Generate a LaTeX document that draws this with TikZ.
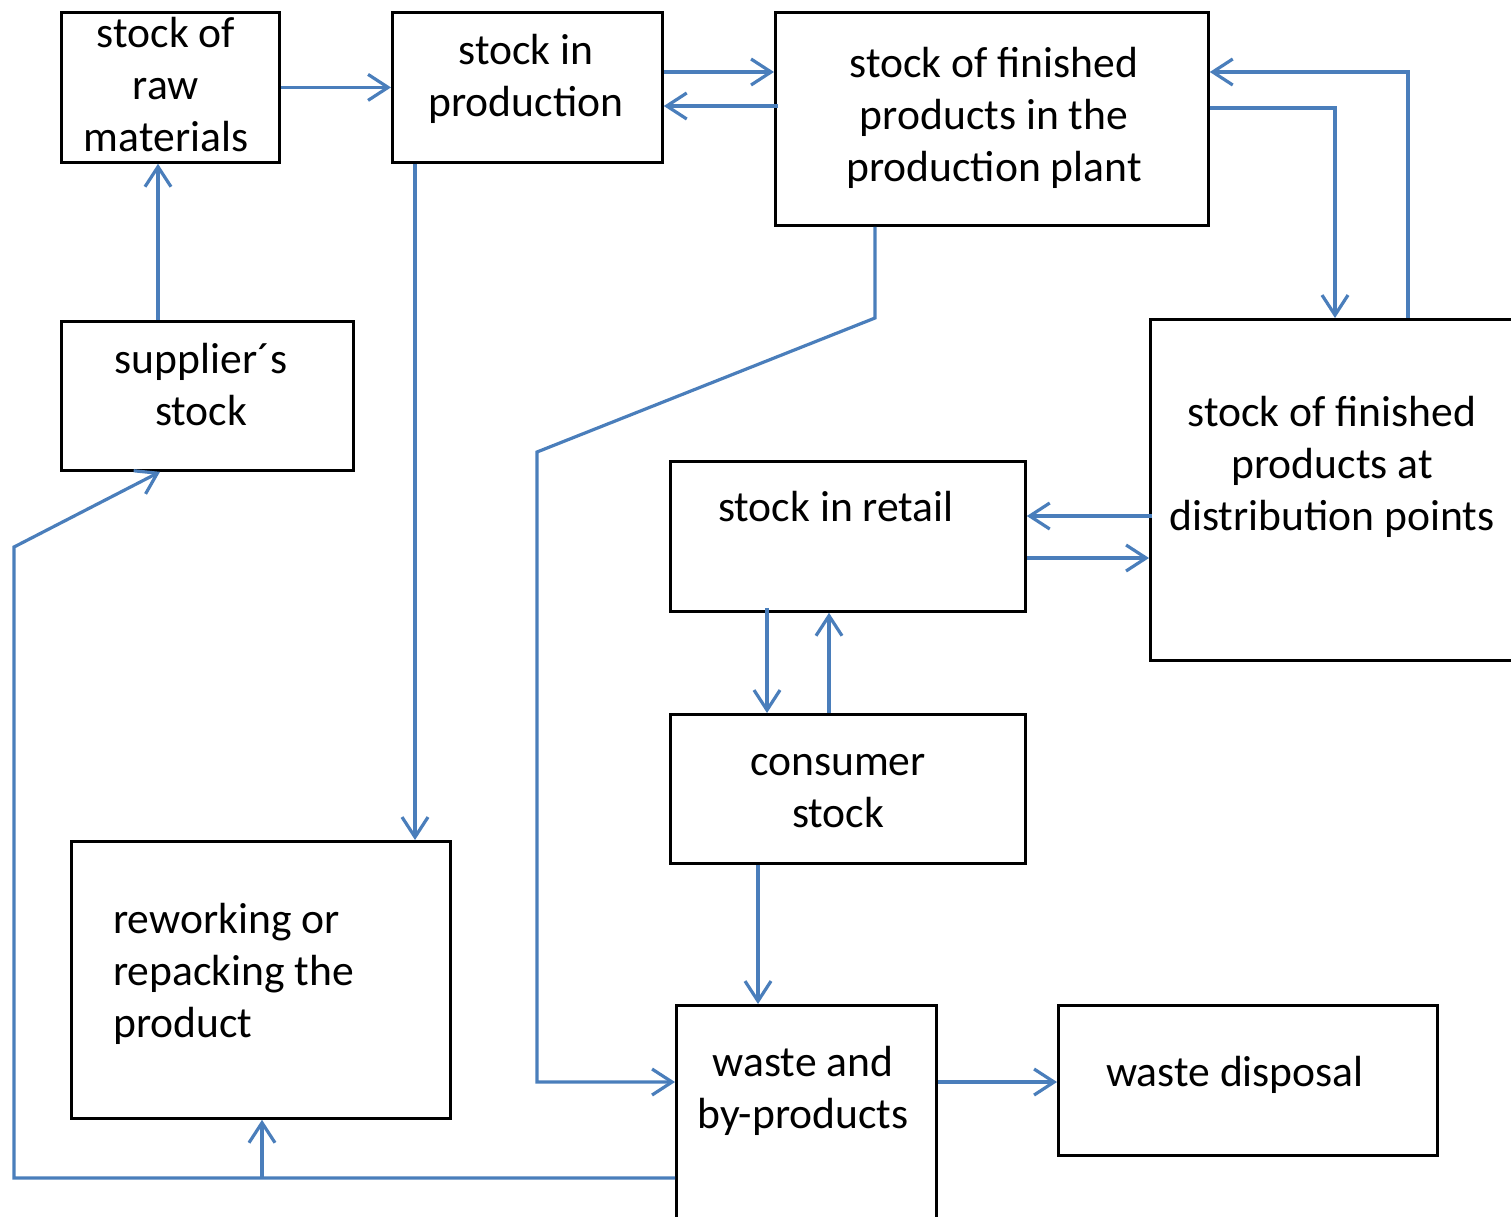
\documentclass[tikz,border=0pt]{standalone}
\usepackage{fontspec}
\setmainfont{Carlito}
\usetikzlibrary{arrows.meta}
\definecolor{flowblue}{RGB}{74,126,187}
\tikzset{
  box/.style={draw=black, line width=2.8pt, anchor=north west, inner sep=0pt},
  lbl/.style={font=\fontsize{43.6}{52}\selectfont, align=center, inner sep=0pt, anchor=base},
  flow/.style={draw=flowblue, line width=3.2pt, -{Straight Barb[length=20pt,width=26pt]}},
}
\begin{document}
\begin{tikzpicture}[x=1pt,y=-1pt]
  \useasboundingbox (0,0) rectangle (1511,1216);
  \clip (0,0) rectangle (1511,1216);

  % boxes
  \node[box, minimum width=218, minimum height=150] (raw) at (60,11) {};
  \node[box, minimum width=270, minimum height=150] (prod) at (391,11) {};
  \node[box, minimum width=433, minimum height=213] (plant) at (774,11) {};
  \node[box, minimum width=292, minimum height=149] (supplier) at (60,320) {};
  \node[box, minimum width=380, minimum height=341] (dist) at (1149,318) {};
  \node[box, minimum width=355, minimum height=150] (retail) at (669,460) {};
  \node[box, minimum width=355, minimum height=149] (consumer) at (669,713) {};
  \node[box, minimum width=379, minimum height=277] (rework) at (70,840) {};
  \node[box, minimum width=260, minimum height=230] (waste) at (675,1004) {};
  \node[box, minimum width=379, minimum height=150] (disposal) at (1057,1004) {};

  % texts (anchored at the last line)
  \node[lbl] (rawtxt) at (166,151) {stock of\\raw\\materials};
  \node[lbl] (prodtxt) at (526,116) {stock in\\production};
  \node[lbl] (planttxt) at (994,181) {stock of finished\\products in the\\production plant};
  \node[lbl] (suppliertxt) at (201,425) {supplier´s\\stock};
  \node[lbl] (disttxt) at (1332,530) {stock of finished\\products at\\distribution points};
  \node[lbl] (retailtxt) at (836,521) {stock in retail};
  \node[lbl] (consumertxt) at (838,827) {consumer\\stock};
  \node[lbl, align=left, anchor=base west] (reworktxt) at (113,1037) {reworking or\\repacking the\\product};
  \node[lbl] (wastetxt) at (803,1128) {waste and\\by-products};
  \node[lbl] (disposaltxt) at (1235,1086) {waste disposal};

  % flows
  \draw[flow] (raw.east) -- (prod.west);
  \draw[flow] (prod.east |- 0,72) -- (plant.west |- 0,72);
  \draw[flow] ([xshift=4pt]plant.west |- 0,106) -- (prod.east |- 0,106);
  \draw[flow] (plant.east |- 0,108) -| (dist.north -| 1335,0);
  \draw[flow] (dist.north -| 1408,0) |- (plant.east |- 0,72);
  \draw[flow] (supplier.north -| 158,0) -- (raw.south -| 158,0);
  \draw[flow] (prod.south -| 415,0) -- (rework.north -| 415,0);
  \draw[flow] (plant.south -| 875,0) -- (875,318) -- (537,452) -- (537,1082) -- (waste.west |- 0,1082);
  \draw[flow] ([xshift=3pt]dist.west |- 0,516) -- (retail.east |- 0,516);
  \draw[flow] (retail.east |- 0,558) -- (dist.west |- 0,558);
  \draw[flow] ([yshift=5pt]retail.south -| 767,0) -- (consumer.north -| 767,0);
  \draw[flow] (consumer.north -| 829,0) -- (retail.south -| 829,0);
  \draw[flow] (consumer.south -| 758,0) -- (waste.north -| 758,0);
  \draw[flow] (waste.east |- 0,1082) -- (disposal.west |- 0,1082);
  \coordinate (split) at (262,1178);
  \draw[flow] (waste.west |- 0,1178) -- (14,1178) -- (14,547) -- (supplier.south -| 160,0);
  \draw[flow] (split) -- (rework.south -| split);
\end{tikzpicture}
\end{document}
